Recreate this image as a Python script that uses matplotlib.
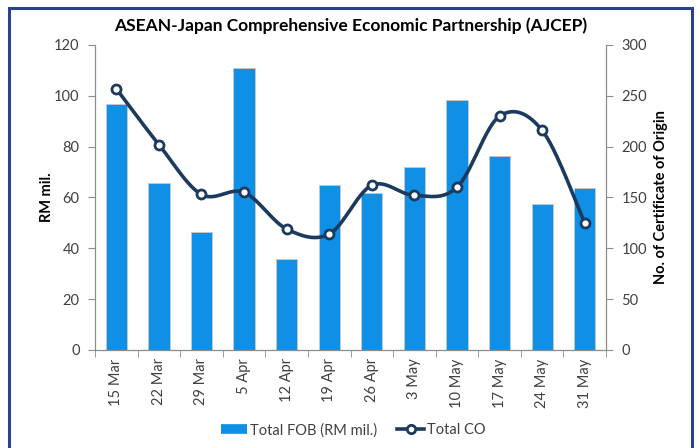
import numpy as np
import matplotlib
matplotlib.use('Agg')
import matplotlib.pyplot as plt
from matplotlib.patches import Rectangle
from matplotlib.lines import Line2D

plt.rcParams['font.family'] = ['Lato', 'DejaVu Sans']

weeks = ['15 Mar', '22 Mar', '29 Mar', '5 Apr', '12 Apr', '19 Apr',
         '26 Apr', '3 May', '10 May', '17 May', '24 May', '31 May']
fob = [96.8, 65.7, 46.4, 111.0, 35.8, 64.9, 61.8, 72.0, 98.4, 76.3, 57.4, 63.7]
co = [257, 202, 153, 155, 119, 114, 162, 152, 160, 230, 216, 125]


def smooth(x, y, n=30):
    '''Catmull-Rom curve through the points, like Excel smoothed lines'''
    x = np.asarray(x, float)
    y = np.asarray(y, float)
    px = np.concatenate([[x[0]], x, [x[-1]]])
    py = np.concatenate([[y[0]], y, [y[-1]]])
    xs, ys = [], []
    t = np.linspace(0, 1, n)
    for i in range(1, len(px) - 2):
        p0, p1, p2, p3 = px[i-1], px[i], px[i+1], px[i+2]
        q0, q1, q2, q3 = py[i-1], py[i], py[i+1], py[i+2]
        b1x, b1y = p1 + (p2 - p0) / 6, q1 + (q2 - q0) / 6
        b2x, b2y = p2 - (p3 - p1) / 6, q2 - (q3 - q1) / 6
        bx = (1-t)**3*p1 + 3*(1-t)**2*t*b1x + 3*(1-t)*t**2*b2x + t**3*p2
        by = (1-t)**3*q1 + 3*(1-t)**2*t*b1y + 3*(1-t)*t**2*b2y + t**3*q2
        xs.extend(bx)
        ys.extend(by)
    return np.array(xs), np.array(ys)


fig = plt.figure(figsize=(6.99, 4.48), dpi=100)
ax = fig.add_axes([0.1359, 0.2188, 0.7311, 0.6808])
ax2 = ax.twinx()

x = np.arange(len(weeks))
gray = '#8c8c8c'
text_c = '#404040'
blue = '#0F8FE5'
navy = '#1B3A5E'

ax.bar(x, fob, width=0.5, color=blue, edgecolor='#c8c8c8',
       linewidth=0.6, zorder=2)
ax.set_ylim(0, 120)
ax.set_yticks(range(0, 121, 20))
ax.set_xlim(-0.5, len(weeks) - 0.5)
ax.set_xticks(x)
ax.set_xticklabels(weeks, rotation=90)
ax.set_xticks(np.arange(-0.5, len(weeks), 1), minor=True)
ax.tick_params(axis='x', which='major', length=0, pad=6, labelsize=10.5, colors=text_c)
ax.tick_params(axis='x', which='minor', length=5, color=gray, direction='out')
ax.tick_params(axis='y', length=5, color=gray, labelsize=10.5, labelcolor=text_c, pad=6)
ax.set_ylabel('RM mil.', fontsize=10.5, fontweight='bold', labelpad=0)

sx, sy = smooth(x, co)
ax2.plot(sx, sy, color=navy, linewidth=2.6, zorder=3)
ax2.plot(x, co, linestyle='none', marker='o', markersize=6.5,
         markerfacecolor='white', markeredgecolor=navy,
         markeredgewidth=2, zorder=4)
ax2.set_ylim(0, 300)
ax2.set_yticks(range(0, 301, 50))
ax2.tick_params(axis='y', length=5, color=gray, labelsize=10.5, labelcolor=text_c, pad=6)
ax2.set_ylabel('No. of Certificate of Origin', fontsize=10.5, fontweight='bold',
               labelpad=5)

for a in (ax, ax2):
    a.spines['top'].set_visible(False)
    for s in ('left', 'right', 'bottom'):
        a.spines[s].set_color(gray)
        a.spines[s].set_linewidth(0.9)
ax.spines['right'].set_visible(False)
ax2.spines['left'].set_visible(False)
ax2.spines['bottom'].set_visible(False)

ax.set_title('ASEAN-Japan Comprehensive Economic Partnership (AJCEP)',
             fontsize=12.5, fontweight='bold', pad=10)

bar_h = Line2D([], [], color=blue, linewidth=7, solid_capstyle='butt')
line_h = Line2D([], [], color=navy, linewidth=2.6, marker='o', markersize=6,
                markerfacecolor='white', markeredgecolor=navy,
                markeredgewidth=2)
fig.legend([bar_h, line_h], ['Total FOB (RM mil.)', 'Total CO'],
           loc='center', bbox_to_anchor=(0.505, 0.04), ncol=2, frameon=False,
           fontsize=10.5, handlelength=1.8, handletextpad=0.2,
           columnspacing=1.4, labelcolor=text_c)

fig.patches.append(Rectangle((0.0129, -0.1), 0.977, 1.082,
                             transform=fig.transFigure, fill=False,
                             edgecolor='#2B3F94', linewidth=2.2))

fig.savefig('out.png', dpi=100)
